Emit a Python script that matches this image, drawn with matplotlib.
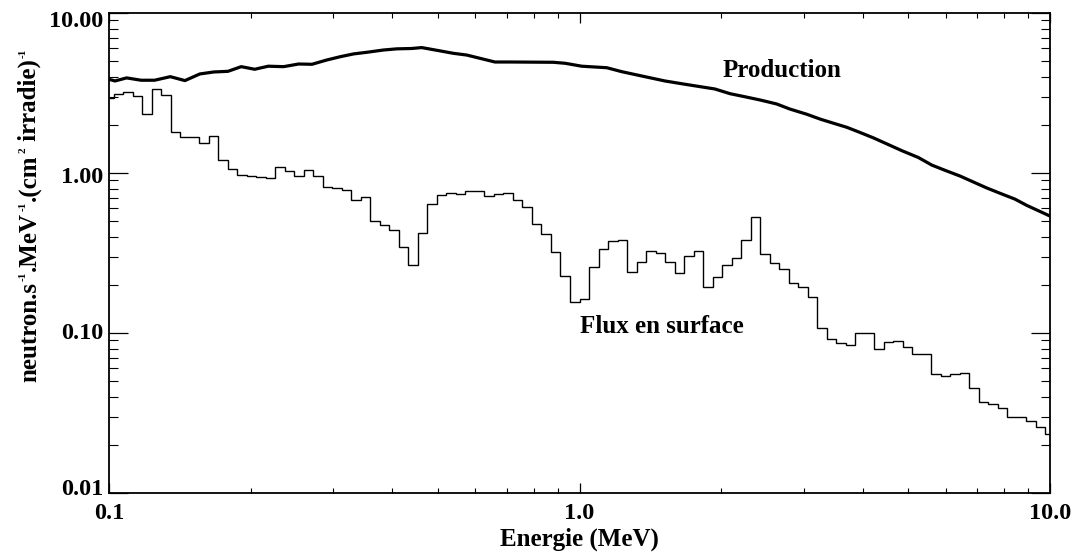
import numpy as np
import matplotlib
matplotlib.use("Agg")
import matplotlib.pyplot as plt
from matplotlib.ticker import FixedLocator, FixedFormatter, NullFormatter
import matplotlib.transforms as mtransforms

# ---------------- data ----------------
prod_energy = [0.1, 0.103, 0.109, 0.117, 0.125, 0.135, 0.145, 0.156, 0.167, 0.179,
               0.191, 0.204, 0.218, 0.235, 0.253, 0.270, 0.290, 0.310, 0.331, 0.353,
               0.383, 0.409, 0.440, 0.462, 0.505, 0.539, 0.576, 0.661, 0.712, 0.880,
               0.932, 1.011, 1.143, 1.229, 1.345, 1.519, 1.662, 1.94, 2.09, 2.23,
               2.42, 2.625, 2.80, 3.04, 3.25, 3.46, 3.70, 3.95, 4.21, 4.50,
               4.84, 5.25, 5.61, 6.03, 6.44, 6.87, 7.34, 7.83, 8.43, 8.92, 10.0]
prod_value = [3.85, 3.76, 3.93, 3.80, 3.80, 4.00, 3.78, 4.16, 4.28, 4.32,
              4.62, 4.45, 4.65, 4.62, 4.80, 4.78, 5.08, 5.33, 5.55, 5.68,
              5.87, 5.97, 6.00, 6.08, 5.80, 5.60, 5.46, 4.94, 4.94, 4.92,
              4.85, 4.65, 4.55, 4.30, 4.06, 3.76, 3.60, 3.35, 3.13, 3.01,
              2.86, 2.70, 2.51, 2.33, 2.17, 2.05, 1.93, 1.79, 1.66, 1.52,
              1.38, 1.25, 1.12, 1.03, 0.957, 0.879, 0.806, 0.747, 0.686, 0.628, 0.538]

# surface flux, one value per energy point (100 log-spaced points 0.1 .. 10 MeV)
flux_energy = np.geomspace(0.1, 10.0, 100)
flux_value = [2.93, 3.12, 3.22, 3.04, 2.34, 3.33, 3.06, 1.80, 1.69, 1.69,
              1.55, 1.71, 1.21, 1.054, 0.972, 0.962, 0.949, 0.930, 1.090, 1.024,
              0.958, 1.044, 0.953, 0.814, 0.810, 0.787, 0.681, 0.705, 0.501, 0.471,
              0.438, 0.345, 0.265, 0.422, 0.637, 0.725, 0.754, 0.739, 0.772, 0.772,
              0.718, 0.743, 0.746, 0.678, 0.610, 0.480, 0.414, 0.322, 0.228, 0.156,
              0.163, 0.259, 0.333, 0.378, 0.380, 0.242, 0.278, 0.324, 0.315, 0.276,
              0.236, 0.301, 0.324, 0.195, 0.223, 0.265, 0.293, 0.381, 0.528, 0.312,
              0.272, 0.251, 0.206, 0.195, 0.167, 0.108, 0.0913, 0.0862, 0.0841, 0.0995,
              0.1005, 0.0794, 0.0874, 0.0896, 0.0821, 0.0739, 0.0739, 0.0552, 0.0539, 0.0554,
              0.0562, 0.0451, 0.0369, 0.0360, 0.0338, 0.0300, 0.0297, 0.0283, 0.0257, 0.0234]

x_ticks = [0.1, 1.0, 10.0]
x_ticklabels = ["0.1", "1.0", "10.0"]
y_ticks = [0.01, 0.1, 1.0, 10.0]
y_ticklabels = ["0.01", "0.10", "1.00", "10.00"]

label_production = "Production"
label_flux = "Flux en surface"
xlabel = "Energie (MeV)"
# y label: (text, is_superscript)
ylabel_parts = [("neutron.s", False), ("-1", True), (".MeV", False), ("-1", True),
                (".(cm", False), ("2", True), (" irradie)", False), ("-1", True)]

# ---------------- style ----------------
plt.rcParams['font.family'] = ['Liberation Serif', 'DejaVu Serif']
plt.rcParams['font.weight'] = 'bold'

FS_TICK = 17.5
FS_TEXT = 18
FS_SUP = 8

fig = plt.figure(figsize=(10.78, 5.52), dpi=100)
ax = fig.add_axes([109/1078, 1 - 493/552, (1050-109)/1078, (493-13)/552])

# production curve
ax.plot(prod_energy, prod_value, color='black', lw=2.3, solid_joinstyle='round')

# flux histogram (IDL psym=10 style: steps centred on points, half steps at ends)
fe = np.asarray(flux_energy)
edges = np.concatenate(([fe[0]], np.sqrt(fe[:-1] * fe[1:]), [fe[-1]]))
ax.stairs(flux_value, edges, baseline=None, color='black', lw=1.0)

ax.set_xscale('log')
ax.set_yscale('log')
ax.set_xlim(0.1, 10.0)
ax.set_ylim(0.01, 10.0)

ax.xaxis.set_major_locator(FixedLocator(x_ticks))
ax.xaxis.set_major_formatter(FixedFormatter(x_ticklabels))
ax.yaxis.set_major_locator(FixedLocator(y_ticks))
ax.yaxis.set_major_formatter(FixedFormatter(y_ticklabels))
ax.xaxis.set_minor_formatter(NullFormatter())
ax.yaxis.set_minor_formatter(NullFormatter())

ax.tick_params(axis='x', which='major', direction='in', length=6.9, width=0.9,
               top=True, bottom=True, pad=7, labelsize=FS_TICK)
ax.tick_params(axis='x', which='minor', direction='in', length=3.5, width=0.8,
               top=True, bottom=True)
ax.tick_params(axis='y', which='major', direction='in', length=13.7, width=0.9,
               left=True, right=True, pad=4, labelsize=FS_TICK)
ax.tick_params(axis='y', which='minor', direction='in', length=6.8, width=0.8,
               left=True, right=True)
for lab in ax.get_xticklabels() + ax.get_yticklabels():
    lab.set_fontweight('bold')

for sp in ax.spines.values():
    sp.set_linewidth(1.3)

# slight vertical shifts of y tick labels as in the reference
shifts_px = [-6, -2, 2, 6]  # for 0.01, 0.10, 1.00, 10.00 (positive = down)
for lab, s in zip(ax.get_yticklabels(), shifts_px):
    lab.set_transform(lab.get_transform() +
                      mtransforms.ScaledTranslation(0, -s / 100.0, fig.dpi_scale_trans))

ax.set_xlabel(xlabel, fontsize=FS_TEXT, fontweight='bold', labelpad=3)

# y label built from pieces so the superscripts can be tiny (as in the reference)
renderer = fig.canvas.get_renderer()
ident = mtransforms.IdentityTransform()
H = 552
x_base = 36          # baseline position (pixels from left)
sup_raise = 10       # superscript raise (pixels)
pieces = []
for txt, sup in ylabel_parts:
    t = fig.text(0, 0, txt, transform=ident, rotation=90, rotation_mode='anchor',
                 ha='left', va='baseline', fontsize=FS_SUP if sup else FS_TEXT,
                 fontweight='bold')
    w = t.get_window_extent(renderer).height
    pieces.append((t, sup, w))
gap_sup = 1.0
total = sum(w for _, _, w in pieces) + gap_sup * len(pieces)
center_y_img = 215
y = (H - center_y_img) - total / 2.0
for t, sup, w in pieces:
    t.set_position((x_base - (sup_raise if sup else 0), y))
    y += w + gap_sup

ax.text(2.69, 4.4, label_production, fontsize=FS_TEXT, fontweight='bold',
        ha='center', va='center')
ax.text(1.50, 0.110, label_flux, fontsize=FS_TEXT, fontweight='bold',
        ha='center', va='center')

fig.savefig('out.png', dpi=100)
